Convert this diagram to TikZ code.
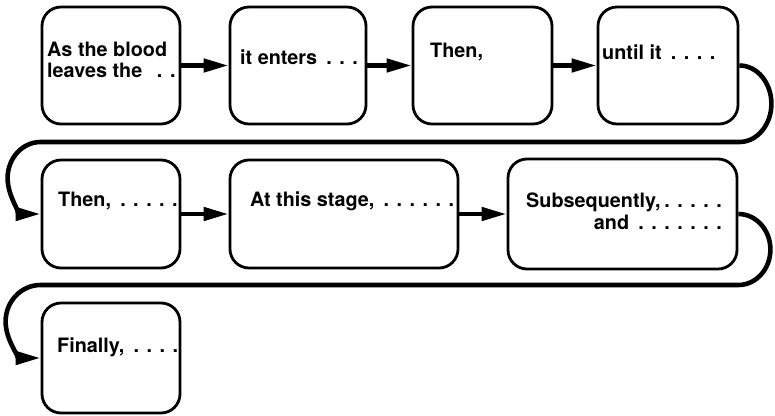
\documentclass[tikz,border=0pt]{standalone}
\usepackage{fontspec}
\setmainfont{TeX Gyre Heros}
\usetikzlibrary{arrows.meta}
\newcommand\dd{\makebox[13pt]{.}}
\begin{document}
\begin{tikzpicture}[x=1pt,y=1pt,
  box/.style={draw, line width=2.8pt, rounded corners=19pt, inner sep=0pt},
  txt/.style={inner sep=0pt, font=\fontsize{19.8}{21}\selectfont\bfseries},
  conn/.style={line width=4.6pt, -{Triangle[length=25pt,width=13pt]}},
  ]
\useasboundingbox (0,0) rectangle (775,415);
% boxes
\node[box, minimum width=138pt, minimum height=117pt] (b1) at (111,349.5) {};
\node[box, minimum width=136pt, minimum height=117pt] (b2) at (298,349.5) {};
\node[box, minimum width=139pt, minimum height=117pt] (b3) at (482.5,349.5) {};
\node[box, minimum width=140pt, minimum height=117pt] (b4) at (668,349.5) {};
\node[box, minimum width=138pt, minimum height=108pt] (b5) at (111,201) {};
\node[box, minimum width=228pt, minimum height=108pt] (b6) at (344,201) {};
\node[box, minimum width=229pt, minimum height=110pt] (b7) at (622.5,201) {};
\node[box, minimum width=138pt, minimum height=110pt] (b8) at (111,57) {};
% texts
\node[txt, anchor=base west] (t1a) at (47,358) {As the blood};
\node[txt, anchor=base west] (t1b) at (47,337) {leaves the\hspace{11pt}\dd\dd};
\node[txt, anchor=base west] (t2) at (240,350) {it enters \dd\dd\dd};
\node[txt, anchor=base west] (t3) at (430,357) {Then,};
\node[txt, anchor=base west] (t4) at (602,355) {until it \dd\dd\dd\dd};
\node[txt, anchor=base west] (t5) at (58,208) {Then, \dd\dd\dd\dd\dd};
\node[txt, anchor=base west] (t6) at (250,208) {At this stage, \dd\dd\dd\dd\dd\dd};
\node[txt, anchor=base west] (t7a) at (526,207) {Subsequently,\dd\dd\dd\dd\dd};
\node[txt, anchor=base east] (t7b) at (t7a.base east |- 0,185) {and \dd\dd\dd\dd\dd\dd\dd};
\node[txt, anchor=base west] (t8) at (57,63) {Finally, \dd\dd\dd\dd};
% connectors
\draw[conn] (b1.east) -- (b2.west);
\draw[conn] (b2.east) -- (b3.west);
\draw[conn] (b3.east) -- (b4.west);
\draw[conn] (b5.east) -- (b6.west);
\draw[conn] (b6.east) -- (b7.west);
\coordinate (c1) at (b5.west |- 0,273);
\coordinate (c2) at (b8.west |- 0,130);
\draw[conn] (b4.east) arc[start angle=90, end angle=-90, x radius=32, y radius=38.25]
  -- (c1) arc[start angle=90, end angle=270, x radius=33, y radius=36];
\draw[conn] (b7.east) arc[start angle=90, end angle=-90, x radius=32, y radius=35.5]
  -- (c2) arc[start angle=90, end angle=270, x radius=35, y radius=36.5];
\end{tikzpicture}
\end{document}
